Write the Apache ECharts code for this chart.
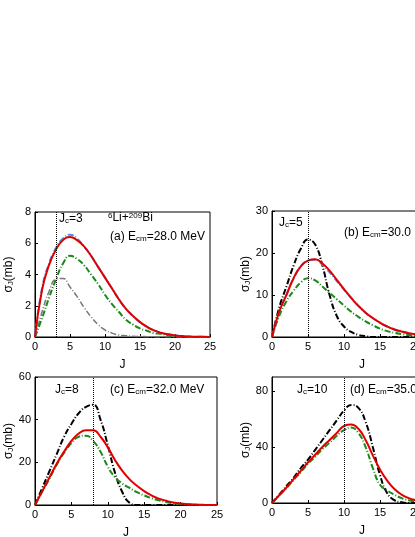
<!DOCTYPE html><html><head><meta charset="utf-8"><script src="https://cdn.jsdelivr.net/npm/echarts@6/dist/echarts.min.js"></script></head><body style="margin:0"><div id="c" style="width:415px;height:537px"></div><script>
const J=[...Array(26).keys()];
const aRed=[0,3,4.6,5.6,6.2,6.4,6.2,5.8,5.2,4.5,3.8,3.1,2.4,1.8,1.35,0.95,0.65,0.42,0.27,0.17,0.1,0.06,0.03,0.02,0.01,0];
const aBlue=[0,3.1,4.7,5.7,6.3,6.55,6.3,5.8,5.2,4.5,3.8,3.1,2.4,1.8,1.35,0.95,0.65,0.42,0.27,0.17,0.1,0.06,0.03,0.02,0.01,0];
const aGreen=[0,1.2,2.5,3.7,4.7,5.2,5.0,4.6,4.0,3.4,2.7,2.1,1.6,1.1,0.8,0.55,0.4,0.25,0.2,0.1,0.05,0.03,0.01,0,0,0];
const aGray=[0,1.6,2.9,3.7,3.75,3.2,2.6,1.9,1.3,0.8,0.45,0.25,0.12,0.08,0.05,0.03,0.02,0.01,0,0,0,0,0,0,0,0];
const bBlack=[0,7,12,17,21,23.2,22,17,10,5,2.5,1.2,0.5,0.2,0,0,0,0,0,0,0,0,0,0,0,0];
const bRed=[0,6,10,14,16.8,18.2,18.5,17.5,15.8,13.6,11.4,9.3,7.4,5.8,4.5,3.4,2.5,1.8,1.3,0.9,0.6,0.4,0.25,0.15,0.1,0.05];
const bBlue=[0,6,10,14,16.8,18.2,18.4,17.2,15.4,13.3,11.3,9.3,7.4,5.8,4.5,3.4,2.5,1.8,1.3,0.9,0.6,0.4,0.25,0.15,0.1,0.05];
const bGreen=[0,5,8.5,11,13,14,13.5,12,10.5,9,7.5,6,4.8,3.7,2.8,2,1.4,1,0.7,0.45,0.3,0.2,0.1,0.05,0,0];
const cBlack=[0,8,16,24,32,38,43,46,47,40,28,15,6,1,0,0,0,0,0,0,0,0,0,0,0,0];
const cRed=[0,6.5,13,19.5,25,30,33.5,35,35,32,27,21,16,12,9,6.5,4.5,3,2,1.2,0.7,0.4,0.2,0.1,0,0];
const cGreen=[0,6.3,12.5,19,24.5,29,32,32.5,30,25,18,13,10,8,6,4.5,3.2,2.2,1.4,0.8,0.5,0.3,0.1,0,0,0];
const dBlack=[0,6,12,18,25,31,38,45,52,59,66,70,68,58,40,20,7,2,0.5,0,0,0,0,0,0,0];
const dRed=[0,5.5,11,17,23,29,34.5,40,45,50,55,56,53,45,34,24,16,10,6,3.5,2,1,0.5,0.2,0,0];
const dGreen=[0,5.3,10.6,16.5,22,28,33,38.5,43,48,52,54,50,40,25,13,9,6,3.5,2,1,0.5,0.2,0,0,0];
const panels=[
 {g:{left:35,top:212,width:175,height:125},max:8,int:2,Jc:3,s:[[aGray,'#777','dashed',1.5],[aGreen,'#1a8a1a','dashed',2],[aBlue,'#4a90e2','dashed',2],[aRed,'#e00000','solid',2]]},
 {g:{left:272,top:211,width:180,height:126},max:30,int:10,Jc:5,s:[[bBlack,'#000','dashed',2],[bGreen,'#1a8a1a','dashed',2],[bBlue,'#4a90e2','dashed',2],[bRed,'#e00000','solid',2]]},
 {g:{left:35,top:377,width:182,height:128},max:60,int:20,Jc:8,s:[[cBlack,'#000','dashed',2],[cGreen,'#1a8a1a','dashed',2],[cRed,'#e00000','solid',2]]},
 {g:{left:272,top:377,width:180,height:126},max:90,int:40,Jc:10,s:[[dBlack,'#000','dashed',2],[dGreen,'#1a8a1a','dashed',2],[dRed,'#e00000','solid',2]]}];
const grid=[],xAxis=[],yAxis=[],series=[];
const lab={color:'#000',fontSize:11,fontFamily:'Liberation Sans'};
panels.forEach((p,i)=>{
 grid.push(Object.assign({show:true,borderColor:'#000',borderWidth:1,outerBoundsMode:'none',containLabel:false},p.g));
 xAxis.push({type:'value',gridIndex:i,min:0,max:25,interval:5,name:'J',nameLocation:'middle',nameGap:22,nameTextStyle:{fontSize:12,fontFamily:'Liberation Sans'},axisLine:{lineStyle:{color:'#000'}},axisTick:{inside:true,length:3},axisLabel:Object.assign({margin:4},lab),splitLine:{show:false}});
 yAxis.push({type:'value',gridIndex:i,min:0,max:p.max,interval:p.int,name:'σ{s|J}(mb)',nameLocation:'middle',nameGap:20,nameTextStyle:{fontSize:12,fontFamily:'Liberation Sans',rich:{s:{fontSize:8,verticalAlign:'bottom'}}},axisLine:{lineStyle:{color:'#000'}},axisTick:{inside:true,length:3},axisLabel:Object.assign({margin:4,showMaxLabel:p.max%p.int==0},lab),splitLine:{show:false}});
 p.s.forEach((s,k)=>series.push({type:'line',xAxisIndex:i,yAxisIndex:i,data:J.map(j=>[j,s[0][j]]),smooth:true,symbol:'none',lineStyle:{color:s[1],type:s[2]=='dashed'?[6,2,1,2]:'solid',width:s[3]},
  markLine:k==0?{silent:true,symbol:'none',label:{show:false},lineStyle:{color:'#000',type:'dotted',width:1},data:[{xAxis:p.Jc}]}:undefined}));
});
const txt=(x,y,t)=>({type:'text',left:x,top:y,style:{text:t,rich,font:'12px Liberation Sans',fill:'#000'}});
const rich={s:{fontSize:8,verticalAlign:'bottom',fontFamily:'Liberation Sans'},u:{fontSize:8,verticalAlign:'top',fontFamily:'Liberation Sans'},n:{fontSize:12,fontFamily:'Liberation Sans'}};
const el=[
 txt(59,213,'{n|J}{s|c}{n|=3}'),txt(108,212,'{u|6}{n|Li+}{u|209}{n|Bi}'),txt(110,231,'{n|(a) E}{s|cm}{n|=28.0 MeV}'),
 txt(279,217,'{n|J}{s|c}{n|=5}'),txt(344,227,'{n|(b) E}{s|cm}{n|=30.0 MeV}'),
 txt(55,384,'{n|J}{s|c}{n|=8}'),txt(110,384,'{n|(c) E}{s|cm}{n|=32.0 MeV}'),
 txt(297,384,'{n|J}{s|c}{n|=10}'),txt(350,384,'{n|(d) E}{s|cm}{n|=35.0 MeV}')];
echarts.init(document.getElementById('c')).setOption({animation:false,grid,xAxis,yAxis,series,graphic:{elements:el}});
</script></body></html>
